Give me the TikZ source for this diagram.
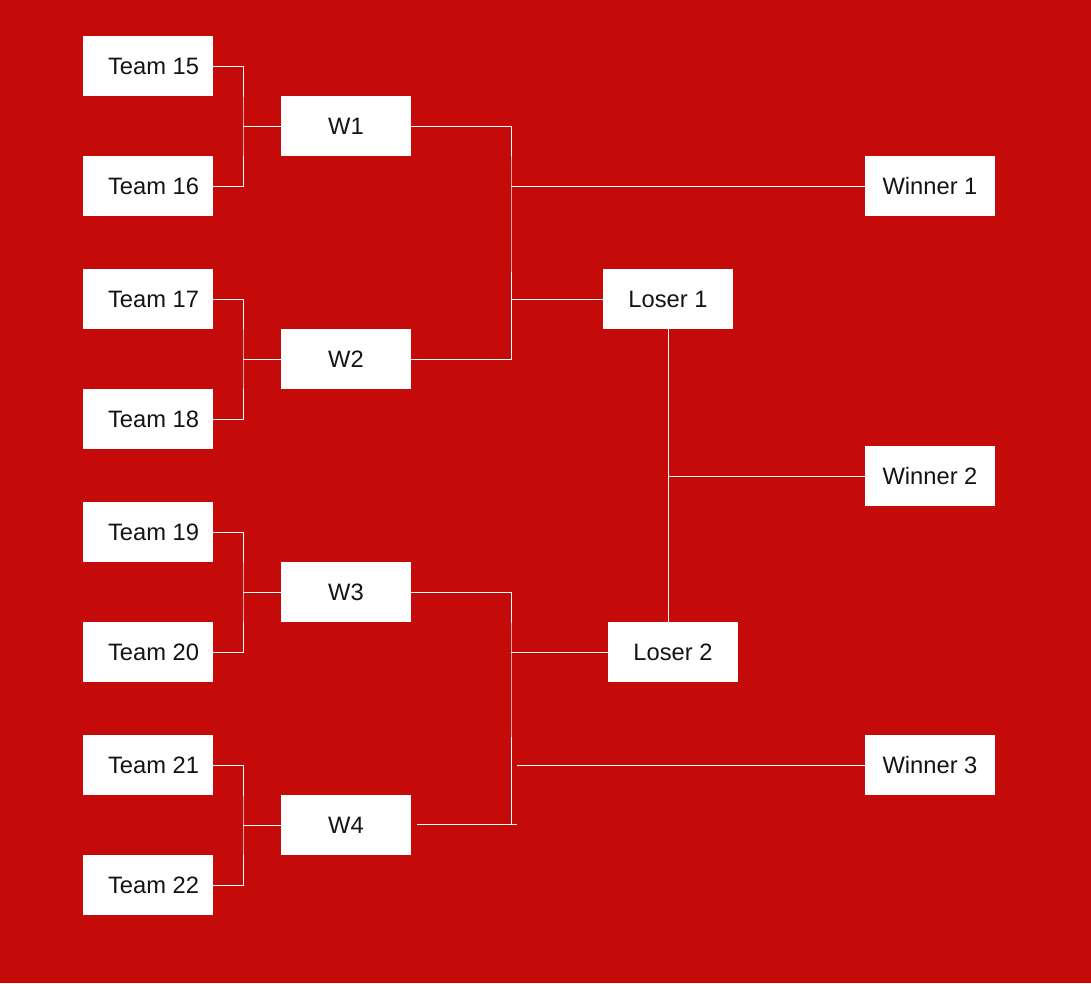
\documentclass[tikz,border=0pt]{standalone}
\usepackage{fontspec}
\setmainfont{Liberation Sans}
\usetikzlibrary{positioning,calc}
\definecolor{bgred}{RGB}{197,10,10}
\definecolor{ink}{RGB}{20,20,20}
\newcommand{\seat}[1]{\makebox[1.6cm][l]{Team #1}}
\tikzset{
  link/.style={draw=white,line width=0.55pt},
  slot/.style={fill=white,text=ink,minimum width=2.6cm,minimum height=1.2cm,
               inner sep=0pt,font=\fontsize{13.5}{16}\selectfont}
}
\begin{document}
\begin{tikzpicture}[x=0.02cm,y=-0.02cm]
  \fill[bgred] (0,0) rectangle (1091,983);
  \useasboundingbox (0,0) rectangle (1091,983);
  % first round
  \node[slot] (t15) at (148,66)  {\seat{15}};
  \node[slot] (t16) at (148,186) {\seat{16}};
  \node[slot] (t17) at (148,299) {\seat{17}};
  \node[slot] (t18) at (148,419) {\seat{18}};
  \node[slot] (t19) at (148,532) {\seat{19}};
  \node[slot] (t20) at (148,652) {\seat{20}};
  \node[slot] (t21) at (148,765) {\seat{21}};
  \node[slot] (t22) at (148,885) {\seat{22}};
  % second round
  \node[slot] (w1) at (346,126) {W1};
  \node[slot] (w2) at (346,359) {W2};
  \node[slot] (w3) at (346,592) {W3};
  \node[slot] (w4) at (346,825) {W4};
  % finals
  \node[slot] (loser1) at (668,299) {Loser 1};
  \node[slot] (loser2) at (673,652) {Loser 2};
  \node[slot] (winner1) at (930,186) {Winner 1};
  \node[slot] (winner2) at (930,476) {Winner 2};
  \node[slot] (winner3) at (930,765) {Winner 3};
  % joints
  \coordinate (j1) at (243,126);
  \coordinate (j2) at (243,359);
  \coordinate (j3) at (243,592);
  \coordinate (j4) at (243,825);
  \coordinate (m1) at (511,186);
  \coordinate (m2) at (511,652);
  \coordinate (m3) at (517,765);
  \coordinate (m4) at (517,824);
  \coordinate (w4end) at (417,824);
  % brackets
  \draw[link] (t15.east) -| (j1) |- (t16.east);
  \draw[link] (t17.east) -| (j2) |- (t18.east);
  \draw[link] (t19.east) -| (j3) |- (t20.east);
  \draw[link] (t21.east) -| (j4) |- (t22.east);
  \draw[link] (j1) -- (w1);
  \draw[link] (j2) -- (w2);
  \draw[link] (j3) -- (w3);
  \draw[link] (j4) -- (w4);
  \draw[link] (w1.east) -| (m1) |- (w2.east);
  \draw[link] (m1) -- (winner1);
  \draw[link] (loser1.west) -- (loser1.west -| m1);
  \draw[link] (loser1.south) -- (loser1.south |- loser2.north);
  \draw[link] (winner2.west) -- (winner2.west -| loser1.south);
  \draw[link] (w3.east) -| (m2) -- (m2 |- m4);
  \draw[link] (w4end) -- (m4);
  \draw[link] (m2) -- (loser2);
  \draw[link] (m3) -- (winner3);
\end{tikzpicture}
\end{document}
